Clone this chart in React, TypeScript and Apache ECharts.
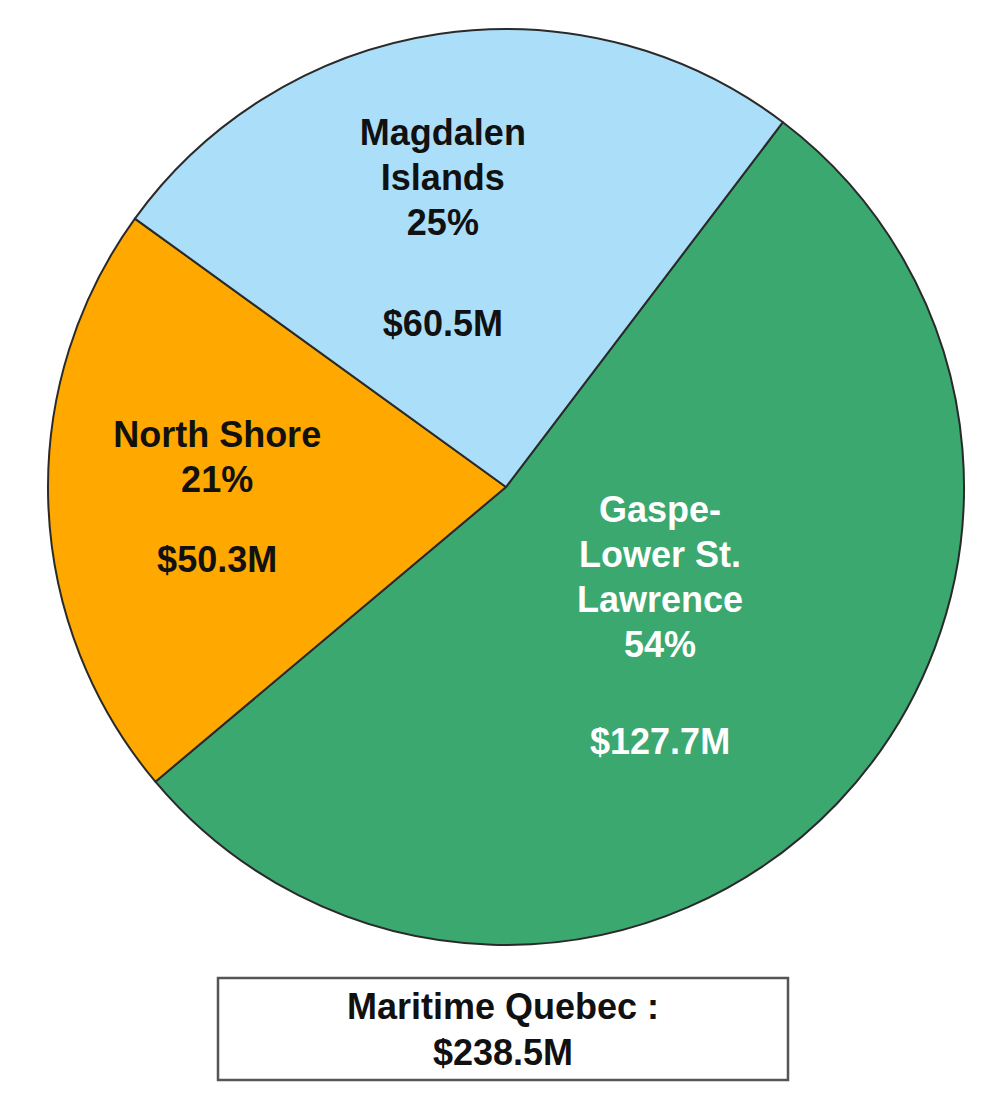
import React, { useEffect, useRef } from "react";
import * as echarts from "echarts";

const regions = ["Gaspe-\nLower St.\nLawrence", "North Shore", "Magdalen\nIslands"];
const valuesM = [127.7, 50.3, 60.5];
const colors = ["#3ba870", "#ffa800", "#abdff9"];
const labelColors = ["#ffffff", "#111111", "#111111"];
const totalTitle = "Maritime Quebec :";
const gapNames = ["g1", "g2", "g3"];
const labelShift = [
  [-14, -21],
  [-57, 2],
  [-29, -30],
];

export default function App() {
  const ref = useRef<HTMLDivElement>(null);
  useEffect(() => {
    if (!ref.current) return;
    const chart = echarts.init(ref.current, undefined, { renderer: "svg" });
    const total = valuesM.reduce((a, b) => a + b, 0);
    const font = "'Liberation Sans', Arial, sans-serif";
    const data = regions.map((name, i) => ({
      name,
      value: valuesM[i],
      itemStyle: { color: colors[i] },
      label: { color: labelColors[i] },
    }));
    chart.setOption({
      animation: false,
      graphic: [
        {
          type: "rect",
          shape: { x: 218, y: 978, width: 570, height: 102 },
          style: { fill: "#ffffff", stroke: "#555555", lineWidth: 2.5 },
        },
        {
          type: "text",
          x: 503,
          y: 1029,
          style: {
            text: totalTitle + "\n$" + total.toFixed(1) + "M",
            fill: "#111111",
            font: "bold 36px 'Liberation Sans', Arial, sans-serif",
            align: "center",
            verticalAlign: "middle",
            lineHeight: 46,
          },
        },
      ],
      series: [
        {
          type: "pie",
          center: [506, 487],
          radius: [0, 458],
          startAngle: 52.8,
          clockwise: true,
          avoidLabelOverlap: false,
          itemStyle: { borderColor: "#2a2a2a", borderWidth: 2 },
          emphasis: { disabled: true },
          label: {
            show: true,
            position: "inside",
            fontFamily: font,
            fontWeight: "bold",
            fontSize: 36,
            formatter: (p: any) => {
              const pct = Math.round((p.value / total) * 100);
              const g = gapNames[p.dataIndex];
              return "{t|" + p.name + "\n" + pct + "%}\n{" + g + "| }\n{t|$" + p.value.toFixed(1) + "M}";
            },
            rich: {
              t: { fontSize: 36, fontWeight: "bold", fontFamily: font, lineHeight: 45, align: "center" },
              g1: { fontSize: 10, lineHeight: 52 },
              g2: { fontSize: 10, lineHeight: 35 },
              g3: { fontSize: 10, lineHeight: 56 },
            },
          },
          labelLine: { show: false },
          labelLayout: (params: any) => ({
            dx: labelShift[params.dataIndex][0],
            dy: labelShift[params.dataIndex][1],
          }),
          data,
        },
      ],
    });
    return () => chart.dispose();
  }, []);
  return (
    <div
      ref={ref}
      style={{ position: "absolute", left: 0, top: 0, width: 1000, height: 1093, background: "#ffffff" }}
    />
  );
}
